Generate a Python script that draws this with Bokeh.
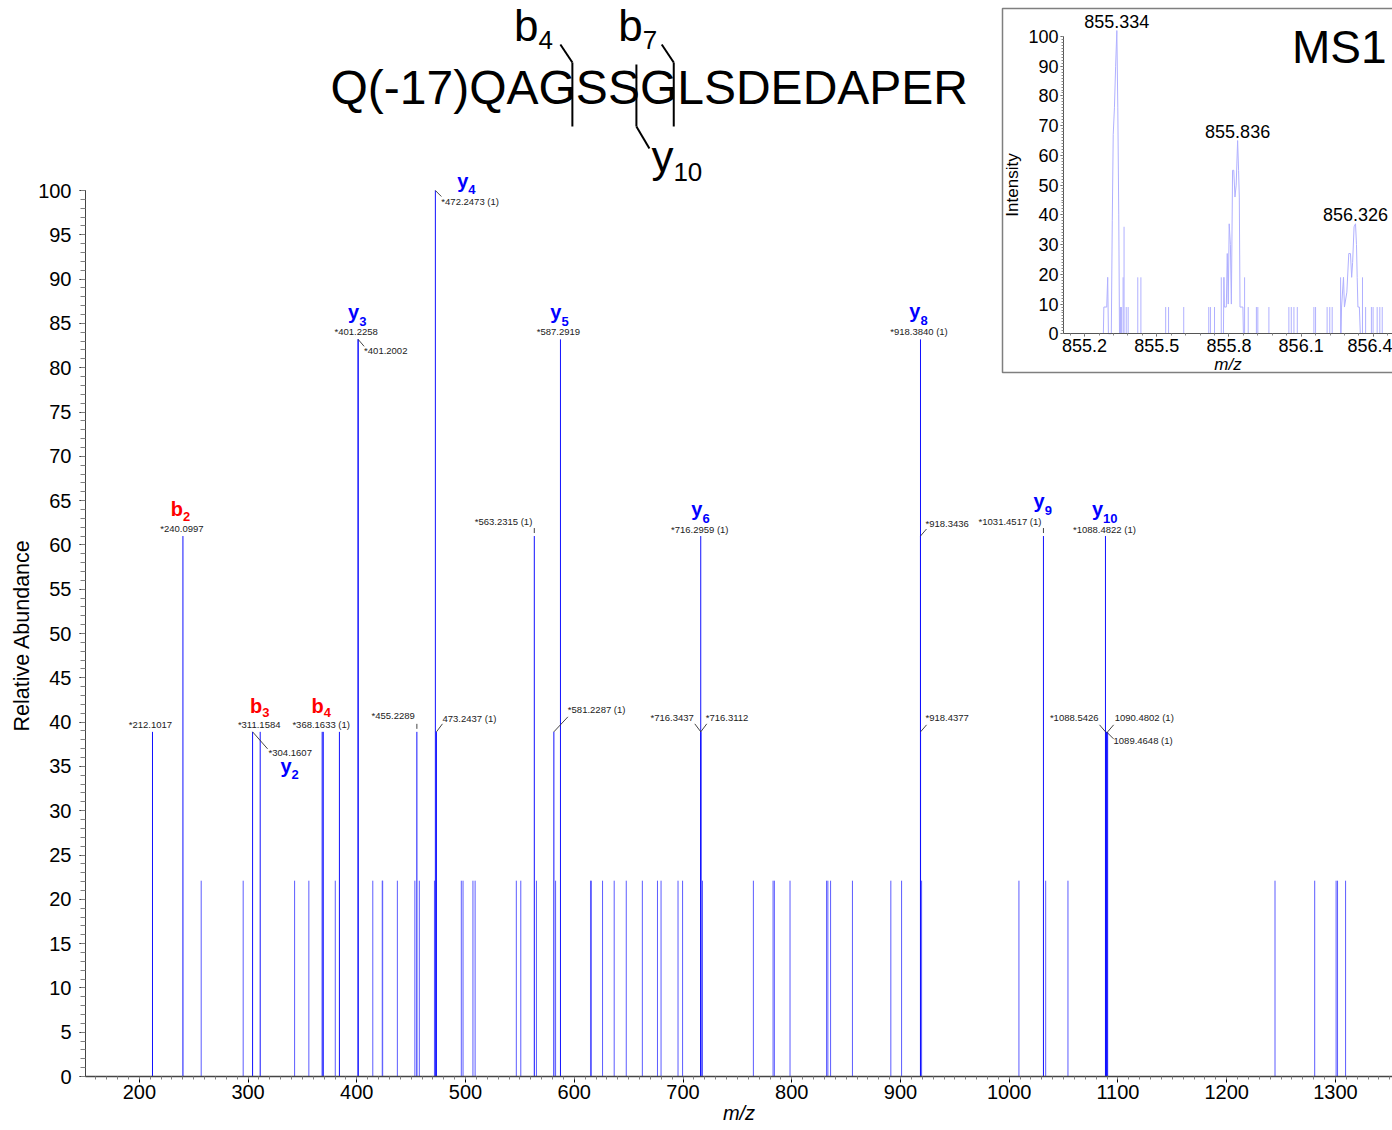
import numpy as np
from bokeh.plotting import figure
from bokeh.models import (Range1d, LinearAxis, SingleIntervalTicker, FixedTicker,
                          PrintfTickFormatter, ColumnDataSource, Title)
from bokeh.core.properties import value
from bokeh.embed import file_html
from bokeh.resources import INLINE

FONT = "Liberation Sans"

# ---------------------------------------------------------------- MS/MS data
# labelled fragment peaks: m/z, relative abundance (%), peak label
frag_mz = [212.1017, 240.0997, 304.1607, 311.1584, 368.1633, 401.2258, 401.2002,
           455.2289, 472.2473, 473.2437, 563.2315, 581.2287, 587.2919,
           716.2959, 716.3437, 716.3112, 918.3840, 918.3436, 918.4377,
           1031.4517, 1088.4822, 1088.5426, 1089.4648, 1090.4802]
frag_rel = [38.9, 61.0, 38.9, 38.9, 38.9, 83.2, 83.2,
            38.9, 100.0, 38.9, 61.0, 38.9, 83.2,
            61.0, 38.9, 38.9, 83.2, 61.0, 38.9,
            61.0, 61.0, 38.9, 38.9, 38.9]
frag_label = ["*212.1017", "*240.0997", "*304.1607", "*311.1584", "*368.1633 (1)",
              "*401.2258", "*401.2002", "*455.2289", "*472.2473 (1)", "473.2437 (1)",
              "*563.2315 (1)", "*581.2287 (1)", "*587.2919", "*716.2959 (1)",
              "*716.3437", "*716.3112", "*918.3840 (1)", "*918.3436", "*918.4377",
              "*1031.4517 (1)", "*1088.4822 (1)", "*1088.5426", "1089.4648 (1)",
              "1090.4802 (1)"]

# unlabelled peaks
other_mz = [369.16, 384.0]
other_rel = [38.9, 38.9]

noise_mz = [256.9, 295.5, 342.8, 355.9, 380.2, 414.7, 423.4, 423.8, 437.3, 453.4,
            457.5, 471.4, 496.1, 497.7, 506.8, 508.8, 546.7, 550.8, 565.2, 582.8,
            614.9, 615.7, 626.0, 636.7, 647.8, 662.6, 676.5, 679.8, 695.4, 699.6,
            717.9, 764.7, 782.8, 784.0, 798.4, 832.0, 833.2, 835.7, 855.8, 891.1,
            901.0, 919.4, 1008.9, 1033.5, 1054.0, 1244.4, 1280.9, 1300.6, 1301.9, 1309.3]
noise_rel = [22.1, 22.1, 22.1, 22.1, 22.1, 22.1, 22.1, 22.1, 22.1, 22.1,
             22.1, 22.1, 22.1, 22.1, 22.1, 22.1, 22.1, 22.1, 22.1, 22.1,
             22.1, 22.1, 22.1, 22.1, 22.1, 22.1, 22.1, 22.1, 22.1, 22.1,
             22.1, 22.1, 22.1, 22.1, 22.1, 22.1, 22.1, 22.1, 22.1, 22.1,
             22.1, 22.1, 22.1, 22.1, 22.1, 22.1, 22.1, 22.1, 22.1, 22.1]

# b / y ion assignments
ion_series = ["b", "b", "b", "y", "y", "y", "y", "y", "y", "y", "y"]
ion_index = ["2", "3", "4", "2", "3", "4", "5", "6", "8", "9", "10"]
ion_mz = [240.0997, 311.1584, 368.1633, 304.1607, 401.2258, 472.2473, 587.2919,
          716.2959, 918.3840, 1031.4517, 1088.4822]

# ---------------------------------------------------------------- MS1 data
ms1_env1_mz = [855.278, 855.280, 855.292, 855.296, 855.299, 855.311, 855.315, 855.319,
               855.324, 855.329, 855.334, 855.338, 855.342, 855.345]
ms1_env1_int = [0, 9, 9, 19, 0, 0, 38, 67, 76, 90, 102, 76, 40, 0]
ms1_env2_mz = [855.777, 855.779, 855.781, 855.789, 855.793, 855.797, 855.801, 855.806,
               855.810, 855.815, 855.820, 855.825, 855.830, 855.836, 855.840, 855.843,
               855.846, 855.858, 855.860]
ms1_env2_int = [0, 19, 9, 9, 27, 10, 37, 30, 10, 55, 55, 46, 50, 65, 55, 46, 9, 9, 0]
ms1_env3_mz = [856.266, 856.268, 856.276, 856.280, 856.290, 856.298, 856.305, 856.310,
               856.314, 856.320, 856.326, 856.330, 856.333, 856.336, 856.342, 856.346]
ms1_env3_int = [0, 9, 19, 9, 14, 27, 27, 19, 24, 36, 37, 30, 19, 9, 9, 0]
ms1_stick_mz = [855.349, 855.353, 855.360, 855.364, 855.373, 855.381, 855.421, 855.434,
                855.537, 855.549, 855.612, 855.716, 855.723, 855.740, 855.768, 855.865,
                855.880, 855.914, 855.920, 855.966, 856.049, 856.059, 856.070, 856.084,
                856.153, 856.160, 856.208, 856.219, 856.229, 856.264, 856.355, 856.368,
                856.392, 856.399, 856.416, 856.427, 856.437]
ms1_stick_int = [9, 9, 19, 36, 9, 9, 19, 19,
                 9, 9, 9, 9, 9, 9, 19, 19,
                 9, 9, 9, 9, 9, 9, 9, 9,
                 9, 9, 9, 9, 9, 19, 19, 9,
                 9, 9, 9, 9, 9]
ms1_peak_mz = [855.334, 855.836, 856.326]
ms1_peak_int = [102, 65, 37]

peptide = "Q(-17)QAGSSGLSDEDAPER"

# ---------------------------------------------------------------- geometry
LEFT, FW, FH = 85, 1307, 1076
SX = 1.0874                       # px per m/z unit (main)
X0 = 150.5
X1 = X0 + FW / SX
SY = (FH - 190) / 100.0           # px per % (main)
Y1 = FH / SY


def px2x(px):
    return X0 + (px - LEFT) / SX


def px2y(py):
    return Y1 - py / SY


# inset ranges share the same frame
ISX = 240.6
IX0 = 855.2 - (1084.1 - LEFT) / ISX
IX1 = IX0 + FW / ISX
ISY = 2.973
I0_PY = 333.3
IY1 = I0_PY / ISY
IY0 = (I0_PY - FH) / ISY
I_LEFT_MZ = 855.2 - (1084.1 - 1063) / ISX


def ipx2x(px):
    return IX0 + (px - LEFT) / ISX


def ipx2y(py):
    return (I0_PY - py) / ISY


p = figure(frame_width=FW, frame_height=FH, x_range=Range1d(X0, X1),
           y_range=Range1d(0, Y1), output_backend="svg", toolbar_location=None,
           min_border=0, min_border_left=LEFT)
p.outline_line_color = None
p.xgrid.visible = False
p.ygrid.visible = False
p.background_fill_color = "white"
p.border_fill_color = "white"

# axes
p.xaxis.ticker = SingleIntervalTicker(interval=100, num_minor_ticks=10)
p.yaxis.ticker = SingleIntervalTicker(interval=5, num_minor_ticks=5)
p.yaxis.bounds = (0, 100)
for ax in (p.xaxis[0], p.yaxis[0]):
    ax.major_label_text_font = FONT
    ax.major_label_text_font_size = "20px"
    ax.major_label_text_color = "black"
    ax.axis_label_text_font = FONT
    ax.axis_label_text_color = "black"
    ax.axis_line_color = "#444444"
    ax.major_tick_line_color = "black"
    ax.minor_tick_line_color = "#808080"
    ax.major_tick_in = 0
    ax.minor_tick_in = 0
p.xaxis.axis_line_width = 1.5
p.xaxis.major_tick_out = 6
p.xaxis.minor_tick_out = 3
p.xaxis.major_label_standoff = 2
p.xaxis.axis_label = "m/z"
p.xaxis.axis_label_text_font_style = "italic"
p.xaxis.axis_label_text_font_size = "20px"
p.xaxis.axis_label_standoff = 0
p.yaxis.major_tick_out = 6
p.yaxis.minor_tick_out = 5
p.yaxis.major_label_standoff = 8

# y-axis title, placed along the 0-100 span of the axis (measured up from frame bottom)
p.add_layout(Title(text="Relative Abundance", align="left", offset=FH - 731,
                   text_font=FONT, text_font_size="21.5px", text_font_style="normal",
                   text_color="black", standoff=3), "left")

# peaks
p.segment(x0=noise_mz, y0=[0] * len(noise_mz), x1=noise_mz, y1=noise_rel,
          line_color="#5c5cff", line_width=1)
p.segment(x0=other_mz, y0=[0] * len(other_mz), x1=other_mz, y1=other_rel,
          line_color="#1010ff", line_width=1)
p.segment(x0=frag_mz, y0=[0] * len(frag_mz), x1=frag_mz, y1=frag_rel,
          line_color="#1010ff", line_width=1)

# peak label placement: (dx, dy, align, leader) in screen px relative to peak top
label_place = [
    (-2, -7, "center", None), (-1, -8, "center", None), (16, 21, "left", (0, 0, 15, 17)),
    (-1, -7, "center", None), (-1, -7, "center", None), (-2, -8, "center", None),
    (6, 11, "left", (0, 0, 6, 7)), (-2, -16, "right", (0, -3, 0, -8)),
    (6, 11, "left", (0, 0, 6, 6)), (6, -13, "left", (0, 0, 6, -8)),
    (-2, -15, "right", (0, -3, 0, -8)), (14, -22, "left", (0, 0, 14, -15)),
    (-2, -8, "center", None), (-1, -7, "center", None),
    (-7, -14, "right", (0, 0, -6, -8)), (5, -14, "left", (0, 0, 6, -8)),
    (-1.5, -8, "center", None), (5, -13, "left", (0, 0, 6, -7)),
    (5, -14, "left", (0, 0, 6, -7)), (-2, -15, "right", (0, -3, 0, -8)),
    (-1, -7, "center", None), (-7, -14, "right", (0, 0, -6, -7)),
    (7, 9, "left", (0, 0, 7, 7)), (7, -14, "left", (0, 0, 6, -7)),
]

for align in ("left", "center", "right"):
    idx = [i for i, pl in enumerate(label_place) if pl[2] == align]
    src = ColumnDataSource(dict(
        x=[frag_mz[i] for i in idx], y=[frag_rel[i] for i in idx],
        t=[frag_label[i] for i in idx],
        dx=[label_place[i][0] for i in idx], dy=[label_place[i][1] for i in idx]))
    p.text(x="x", y="y", text="t", x_offset="dx", y_offset="dy", source=src,
           text_font=value(FONT), text_font_size=value("9.5px"), text_color="#222222",
           text_align=align, text_baseline="middle")

lx0, ly0, lx1, ly1 = [], [], [], []
for m, r, pl in zip(frag_mz, frag_rel, label_place):
    if pl[3] is None:
        continue
    a, b, c, d = pl[3]
    lx0.append(m + a / SX)
    ly0.append(r - b / SY)
    lx1.append(m + c / SX)
    ly1.append(r - d / SY)
p.segment(x0=lx0, y0=ly0, x1=lx1, y1=ly1, line_color="#303030", line_width=0.9)

# ion annotations: (dx of letter/subscript junction, dy of letter baseline)
ion_place = [(0, -21), (2, -20), (1.6, -20), (39, 40), (1, -21), (33, -4),
             (1, -21), (1.7, -21), (0, -22), (1.3, -29), (-2.4, -21)]
ion_rel = [frag_rel[frag_mz.index(m)] for m in ion_mz]
ion_color = ["#ff0000" if s == "b" else "#0000ff" for s in ion_series]
ion_src = ColumnDataSource(dict(
    x=ion_mz, y=ion_rel, s=ion_series, n=ion_index, c=ion_color,
    dx=[q[0] for q in ion_place], dy=[q[1] - 6 for q in ion_place],
    dys=[q[1] + (1 if s == "b" else 3) for q, s in zip(ion_place, ion_series)]))
p.text(x="x", y="y", text="s", x_offset="dx", y_offset="dy", source=ion_src,
       text_color="c", text_font=value(FONT), text_font_size=value("20px"),
       text_font_style="bold", text_align="right", text_baseline="alphabetic")
p.text(x="x", y="y", text="n", x_offset="dx", y_offset="dys", source=ion_src,
       text_color="c", text_font=value(FONT), text_font_size=value("13px"),
       text_font_style="bold", text_align="left", text_baseline="alphabetic")

# ---------------------------------------------------------------- peptide map
ADV = {"Q": 0.778, "(": 0.333, "-": 0.333, "1": 0.556, "7": 0.556, ")": 0.333,
       "A": 0.667, "G": 0.778, "S": 0.667, "L": 0.556, "D": 0.722, "E": 0.667,
       "P": 0.667, "R": 0.722}
PEP_PX, PEP_BASE, PEP_SIZE = 330, 87, 48
p.text(x=[px2x(PEP_PX)], y=[px2y(PEP_BASE)], text=[peptide], text_font=value(FONT),
       text_font_size=value(f"{PEP_SIZE}px"), text_color="black",
       text_align="left", text_baseline="alphabetic")


def cut_px(prefix):
    return PEP_PX + PEP_SIZE * sum(ADV[ch] for ch in prefix) - 3.5


b4x = cut_px("Q(-17)QAG")
y10x = cut_px("Q(-17)QAGSS")
b7x = cut_px("Q(-17)QAGSSG")

seg_x0 = [b4x, b4x - 12, b7x, b7x - 12, y10x, y10x]
seg_y0 = [62, 44, 62, 44, 64, 126]
seg_x1 = [b4x, b4x, b7x, b7x, y10x, y10x + 13]
seg_y1 = [126, 62, 126, 62, 126, 148]
p.segment(x0=[px2x(v) for v in seg_x0], y0=[px2y(v) for v in seg_y0],
          x1=[px2x(v) for v in seg_x1], y1=[px2y(v) for v in seg_y1],
          line_color="black", line_width=2)

p.text(x=[px2x(b4x - 34), px2x(b7x - 31), px2x(y10x + 37)],
       y=[px2y(25), px2y(25), px2y(156)], text=["b", "b", "y"],
       text_font=value(FONT), text_font_size=value("44px"), text_color="black",
       text_align="right", text_baseline="alphabetic")
p.text(x=[px2x(b4x - 34), px2x(b7x - 31), px2x(y10x + 37)],
       y=[px2y(39), px2y(39), px2y(171)], text=["4", "7", "10"],
       text_font=value(FONT), text_font_size=value("26px"), text_color="black",
       text_align="left", text_baseline="alphabetic")

# ---------------------------------------------------------------- MS1 inset
p.extra_x_ranges = {"ix": Range1d(IX0, IX1)}
p.extra_y_ranges = {"iy": Range1d(IY0, IY1)}

p.quad(left=[ipx2x(1002)], right=[ipx2x(1420)], top=[ipx2y(8)], bottom=[ipx2y(372)],
       x_range_name="ix", y_range_name="iy", fill_color="white",
       line_color="#7f7f7f", line_width=1.5)

for mz, it in ((ms1_env1_mz, ms1_env1_int), (ms1_env2_mz, ms1_env2_int),
               (ms1_env3_mz, ms1_env3_int)):
    p.line(x=mz, y=it, x_range_name="ix", y_range_name="iy",
           line_color="#b0b0ff", line_width=1)
p.segment(x0=ms1_stick_mz, y0=[0] * len(ms1_stick_mz), x1=ms1_stick_mz, y1=ms1_stick_int,
          x_range_name="ix", y_range_name="iy", line_color="#b0b0ff", line_width=1)

p.text(x=ms1_peak_mz, y=ms1_peak_int, text=[f"{m:.3f}" for m in ms1_peak_mz],
       x_range_name="ix", y_range_name="iy", y_offset=-3,
       text_font=value(FONT), text_font_size=value("18px"), text_color="black",
       text_align="center", text_baseline="bottom")

p.text(x=[ipx2x(1386)], y=[ipx2y(46)], text=["MS1"], x_range_name="ix", y_range_name="iy",
       text_font=value(FONT), text_font_size=value("46px"), text_color="black",
       text_align="right", text_baseline="alphabetic")

iy_axis = LinearAxis(x_range_name="ix", y_range_name="iy", fixed_location=I_LEFT_MZ,
                     bounds=(0, 100),
                     ticker=SingleIntervalTicker(interval=10, num_minor_ticks=10),
                     axis_label="Intensity")
ix_axis = LinearAxis(x_range_name="ix", y_range_name="iy", fixed_location=0,
                     bounds=(I_LEFT_MZ, IX1),
                     ticker=FixedTicker(ticks=[855.2, 855.5, 855.8, 856.1, 856.4],
                                        minor_ticks=list(np.round(np.arange(855.14, 856.47, 0.06), 2))),
                     formatter=PrintfTickFormatter(format="%.1f"),
                     axis_label="m/z")
for ax in (iy_axis, ix_axis):
    ax.major_label_text_font = FONT
    ax.major_label_text_font_size = "18px"
    ax.major_label_text_color = "black"
    ax.axis_label_text_font = FONT
    ax.axis_label_text_font_size = "17px"
    ax.axis_label_text_color = "black"
    ax.axis_line_color = "#555555"
    ax.major_tick_line_color = "#555555"
    ax.minor_tick_line_color = "#888888"
    ax.major_tick_in = 0
    ax.minor_tick_in = 0
    ax.major_tick_out = 3
    ax.minor_tick_out = 2
    ax.major_label_standoff = 2
    ax.axis_label_standoff = 3
ix_axis.axis_label_text_font_style = "italic"
ix_axis.axis_label_standoff = 0
iy_axis.axis_label_text_font_style = "normal"
p.add_layout(iy_axis, "left")
p.add_layout(ix_axis, "below")

open("out.html", "w").write(file_html(p, INLINE))
